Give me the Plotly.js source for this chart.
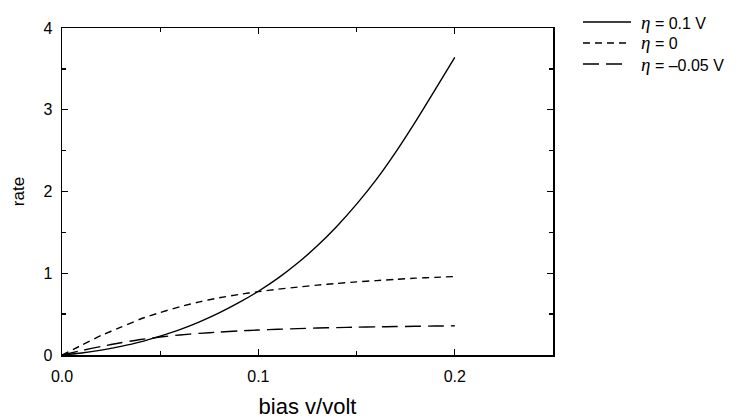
<!DOCTYPE html>
<html>
<head>
<meta charset="utf-8">
<script src="https://cdn.plot.ly/plotly-3.0.1.min.js"></script>
<style>html,body{margin:0;padding:0;background:#fff;}#chart{width:747px;height:419px;}</style>
</head>
<body>
<div id="chart"></div>
<script>
const bias = [0, 0.01, 0.02, 0.03, 0.04, 0.05, 0.06, 0.07, 0.08, 0.09, 0.10,
              0.11, 0.12, 0.13, 0.14, 0.15, 0.16, 0.17, 0.18, 0.19, 0.20];
const rateEta01 = [0, 0.025, 0.06, 0.105, 0.16, 0.23, 0.31, 0.405, 0.515, 0.64, 0.78,
                   0.94, 1.125, 1.335, 1.575, 1.845, 2.145, 2.485, 2.855, 3.245, 3.64];
const rateEta0 = [0, 0.12, 0.24, 0.34, 0.44, 0.52, 0.59, 0.65, 0.70, 0.74, 0.775,
                  0.805, 0.83, 0.855, 0.875, 0.895, 0.91, 0.925, 0.94, 0.95, 0.96];
const rateEtaNeg = [0, 0.055, 0.105, 0.15, 0.19, 0.22, 0.245, 0.265, 0.28, 0.295, 0.305,
                    0.315, 0.323, 0.33, 0.335, 0.34, 0.344, 0.348, 0.351, 0.354, 0.357];
const etaSymbol = '<span style="font-family:Liberation Serif,DejaVu Serif,serif;font-size:19px"><i>η</i></span>';
const seriesLabels = [' = 0.1 V', ' = 0', ' = –0.05 V'];
const xTicks = [0, 0.1, 0.2];
const xTickText = ['0.0', '0.1', '0.2'];
const yTicks = [0, 1, 2, 3, 4];

const font = 'Liberation Sans, Arial, Helvetica, sans-serif';
const dashes = ['solid', '7px,5px', '16px,7px'];
const series = [rateEta01, rateEta0, rateEtaNeg];
const traces = series.map((ys, i) => ({
  x: bias, y: ys, name: seriesLabels[i], mode: 'lines', showlegend: false,
  line: {color: '#000', width: 1.4, dash: dashes[i], shape: 'spline', smoothing: 0.6}
}));

// manual legend (paper coords) so that the sample lines have the reference length
const plotW = 747 - 62 - 194, plotH = 419 - 28 - 64;
const px2x = p => (p - 62) / plotW;
const px2y = p => (419 - 64 - p) / plotH;
const legendRowsPx = [22, 43, 64];
const legendLineEnd = [631, 631, 622];
const shapes = [], annotations = [];
legendRowsPx.forEach((ry, i) => {
  shapes.push({type: 'line', xref: 'paper', yref: 'paper', x0: px2x(583), x1: px2x(legendLineEnd[i]), y0: px2y(ry), y1: px2y(ry),
               line: {color: '#000', width: 1.4, dash: dashes[i]}});
  annotations.push({xref: 'paper', yref: 'paper', x: px2x(639), y: px2y(ry), xanchor: 'left', yanchor: 'middle',
                    text: etaSymbol + seriesLabels[i], showarrow: false, font: {family: font, size: 16, color: '#000'}});
});

const layout = {
  width: 747, height: 419,
  margin: {l: 62, r: 194, t: 28, b: 64, pad: 0},
  paper_bgcolor: '#fff', plot_bgcolor: '#fff',
  font: {family: font, color: '#000', size: 15},
  showlegend: false,
  shapes: shapes, annotations: annotations,
  xaxis: {
    range: [0, 0.25], tickmode: 'array', tickvals: xTicks, ticktext: xTickText,
    ticks: 'inside', ticklen: 6, tickwidth: 1.3, tickcolor: '#000',
    minor: {dtick: 0.05, tick0: 0, ticks: 'inside', ticklen: 4, tickwidth: 1.3, tickcolor: '#000', showgrid: false},
    showline: true, linecolor: '#000', linewidth: 1.5, mirror: 'allticks',
    showgrid: false, zeroline: false, ticklabelstandoff: 6,
    tickfont: {size: 16, family: font},
    title: {text: 'bias v/volt', font: {size: 22, family: font}, standoff: 23}
  },
  yaxis: {
    range: [0, 4], tickmode: 'array', tickvals: yTicks,
    ticks: 'inside', ticklen: 6, tickwidth: 1.3, tickcolor: '#000',
    minor: {dtick: 0.5, tick0: 0, ticks: 'inside', ticklen: 4, tickwidth: 1.3, tickcolor: '#000', showgrid: false},
    showline: true, linecolor: '#000', linewidth: 1.5, mirror: 'allticks',
    showgrid: false, zeroline: false, ticklabelstandoff: 5,
    tickfont: {size: 16, family: font},
    title: {text: 'rate', font: {size: 17, family: font}, standoff: 14}
  }
};
Plotly.newPlot('chart', traces, layout, {displayModeBar: false, staticPlot: true});
</script>
</body>
</html>
